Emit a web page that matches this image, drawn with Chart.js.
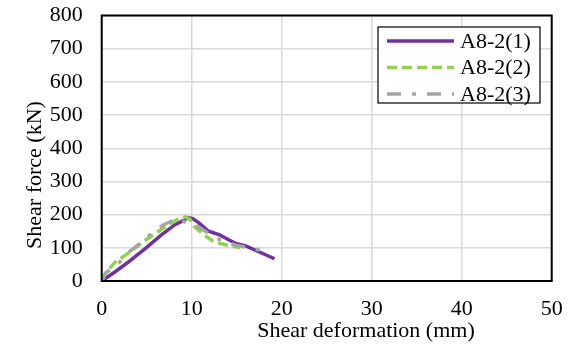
<!DOCTYPE html>
<html>
<head>
<meta charset="utf-8">
<script src="https://cdn.jsdelivr.net/npm/chart.js@4"></script>
<style>
  html, body { margin: 0; padding: 0; background: #fff; }
  canvas { display: block; }
</style>
</head>
<body>
<canvas id="chart" width="585" height="344"></canvas>
<script>
// data
const seriesNames = ['A8-2(1)', 'A8-2(2)', 'A8-2(3)'];

const a1X = [0, 1.5, 2.95, 4.8, 6.6, 8.1, 9.0, 9.6, 10.1, 10.8, 11.8, 13.1, 13.8, 14.9, 16.0, 19.2];
const a1Y = [0, 28, 57, 97, 138, 169, 181, 191, 188, 175, 151, 139, 129, 113, 106, 67];

const a2X = [0, 0.55, 1.5, 2.95, 4.8, 6.6, 8.1, 8.9, 9.3, 9.8, 10.3, 11.4, 12.5, 13.2, 14.4, 15.4];
const a2Y = [0, 28, 57, 84, 122, 155, 181, 191, 193, 186, 164, 138, 118, 113, 105, 101];

const a3X = [0, 0.4, 2.0, 3.1, 4.1, 5.4, 6.8, 7.7, 8.7, 9.4, 10.3, 11.0, 11.8, 12.8, 14.0, 14.9, 16.4, 18.1];
const a3Y = [0, 23, 57, 89, 110, 140, 168, 180, 188, 174, 170, 159, 145, 128, 116, 108, 100, 90];

const xTicks = [0, 10, 20, 30, 40, 50];
const yTicks = [0, 100, 200, 300, 400, 500, 600, 700, 800];

const xTitle = 'Shear deformation (mm)';
const yTitle = 'Shear force (kN)';

const FONT = '"Liberation Serif", "Times New Roman", serif';

function toPoints(xs, ys) {
    return xs.map((x, i) => ({ x: x, y: ys[i] }));
}

const styles = [
    { color: '#7030A0', dash: [], order: 3 },
    { color: '#92D050', dash: [10, 5], order: 2 },
    { color: '#A5A5A5', dash: [14, 11, 4, 11], order: 1 }
];

const datasets = [
    toPoints(a1X, a1Y),
    toPoints(a2X, a2Y),
    toPoints(a3X, a3Y)
].map((pts, i) => ({
    label: seriesNames[i],
    data: pts,
    showLine: true,
    borderColor: styles[i].color,
    backgroundColor: styles[i].color,
    borderWidth: 3.5,
    borderDash: styles[i].dash,
    pointRadius: 0,
    tension: 0,
    order: styles[i].order
}));

// box round the plot, axis titles and the legend
const extras = {
    id: 'extras',
    afterDatasetsDraw(chart) {
        const { ctx, chartArea: a } = chart;
        ctx.save();
        ctx.strokeStyle = '#000';
        ctx.lineWidth = 2;
        ctx.strokeRect(a.left, a.top, a.right - a.left, a.bottom - a.top);

        // legend
        ctx.lineWidth = 1.2;
        ctx.fillStyle = '#fff';
        ctx.fillRect(378, 27, 162, 76);
        ctx.strokeRect(378, 27, 162, 76);
        const rows = [41, 67.5, 94];
        ctx.font = '22px ' + FONT;
        ctx.textBaseline = 'middle';
        ctx.textAlign = 'left';
        datasets.forEach((ds, i) => {
            ctx.beginPath();
            ctx.strokeStyle = ds.borderColor;
            ctx.lineWidth = 3.5;
            ctx.setLineDash(ds.borderDash);
            ctx.moveTo(387, rows[i]);
            ctx.lineTo(454, rows[i]);
            ctx.stroke();
            ctx.setLineDash([]);
            ctx.fillStyle = '#000';
            ctx.fillText(ds.label, 460, rows[i] + 1);
        });

        // axis titles
        ctx.fillStyle = '#000';
        ctx.textAlign = 'center';
        ctx.fillText(xTitle, 366, 331);
        ctx.translate(35, 175);
        ctx.rotate(-Math.PI / 2);
        ctx.fillText(yTitle, 0, 0);
        ctx.restore();
    }
};

new Chart(document.getElementById('chart'), {
    type: 'scatter',
    data: { datasets: datasets },
    options: {
        responsive: false,
        animation: false,
        layout: { padding: { top: 15.5, right: 33.3, left: 0, bottom: 0 } },
        plugins: {
            legend: { display: false },
            tooltip: { enabled: false }
        },
        scales: {
            x: {
                type: 'linear',
                min: 0,
                max: 50,
                afterBuildTicks: s => { s.ticks = xTicks.map(v => ({ value: v })); },
                afterFit: s => {
                    s.height = 63;
                    s.paddingLeft = 0;
                    s.paddingRight = 0;
                },
                grid: { color: '#d9d9d9', lineWidth: 1.5, drawTicks: false },
                border: { display: false },
                ticks: { color: '#000', font: { family: FONT, size: 22 }, padding: 15, maxRotation: 0 }
            },
            y: {
                type: 'linear',
                min: 0,
                max: 800,
                afterBuildTicks: s => { s.ticks = yTicks.map(v => ({ value: v })); },
                afterFit: s => {
                    s.width = 101.7;
                    s.paddingTop = 0;
                    s.paddingBottom = 0;
                },
                grid: { color: '#d9d9d9', lineWidth: 1.5, drawTicks: false },
                border: { display: false },
                ticks: { color: '#000', font: { family: FONT, size: 22 }, padding: 19 }
            }
        }
    },
    plugins: [extras]
});
</script>
</body>
</html>
